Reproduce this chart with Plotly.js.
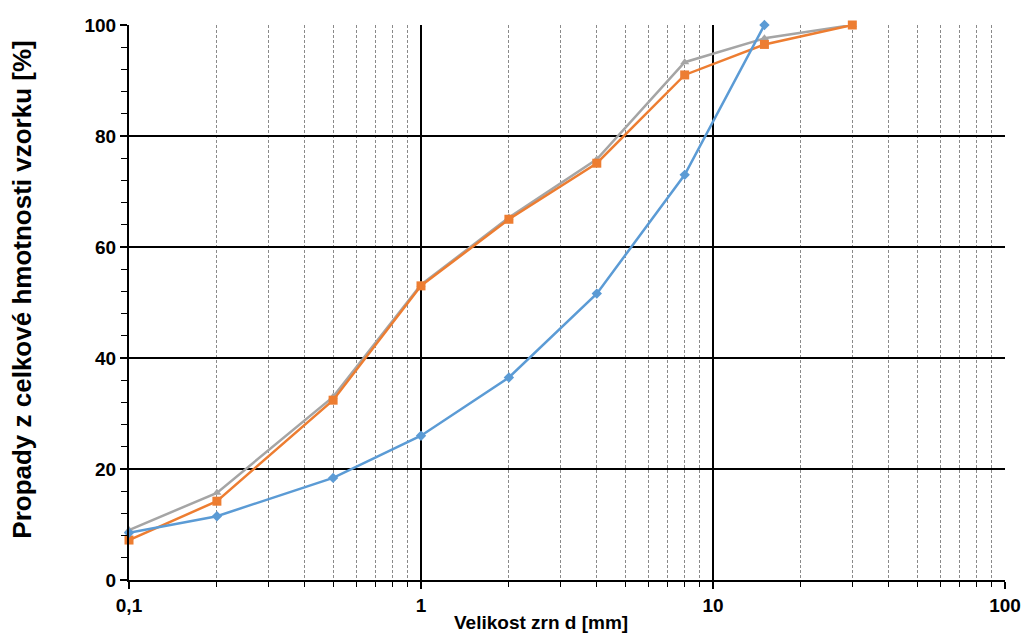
<!DOCTYPE html>
<html>
<head>
<meta charset="utf-8">
<script src="https://cdn.plot.ly/plotly-3.0.1.min.js"></script>
<style>html,body{margin:0;padding:0;background:#fff}#chart{width:1028px;height:634px}</style>
</head>
<body>
<div id="chart"></div>
<script>
const sizes = [0.1, 0.2, 0.5, 1, 2, 4, 8, 15, 30];
const blueSizes = [0.1, 0.2, 0.5, 1, 2, 4, 8, 15];
const blueValues = [8.5, 11.5, 18.4, 26.0, 36.5, 51.6, 73.0, 100];
const orangeValues = [7.2, 14.2, 32.4, 53.0, 65.0, 75.1, 91.0, 96.5, 100];
const grayValues = [9.0, 15.7, 33.0, 53.2, 65.3, 75.8, 93.3, 97.6, 100];
const xTickVals = [0.1, 1, 10, 100];
const xTickText = ['0,1', '1', '10', '100'];
const yTickVals = [0, 20, 40, 60, 80, 100];
const xTitle = 'Velikost zrn d [mm]';
const yTitle = 'Propady z celkové hmotnosti vzorku [%]';

const FONT = 'Liberation Sans, Arial, sans-serif';

const traces = [
  {x: sizes, y: grayValues, mode: 'lines+markers', line: {color: '#A5A5A5', width: 2.5},
   marker: {symbol: 'triangle-up', size: 8, color: '#A5A5A5'}, cliponaxis: false},
  {x: sizes, y: orangeValues, mode: 'lines+markers', line: {color: '#ED7D31', width: 2.5},
   marker: {symbol: 'square', size: 9, color: '#ED7D31'}, cliponaxis: false},
  {x: blueSizes, y: blueValues, mode: 'lines+markers', line: {color: '#5B9BD5', width: 2.5},
   marker: {symbol: 'diamond', size: 8, color: '#5B9BD5'}, cliponaxis: false}
];

const layout = {
  width: 1028, height: 634,
  margin: {l: 129, r: 23, t: 25, b: 54},
  showlegend: false,
  paper_bgcolor: '#fff', plot_bgcolor: '#fff',
  font: {family: FONT, color: '#000'},
  xaxis: {
    type: 'log', range: [-1, 2],
    tickvals: xTickVals, ticktext: xTickText,
    tickfont: {size: 19, family: FONT, weight: 'bold'},
    ticks: 'outside', ticklen: 7, tickwidth: 2, tickcolor: '#000',
    showline: true, linecolor: '#000', linewidth: 2,
    showgrid: true, gridcolor: '#000', gridwidth: 1.2,
    zeroline: false,
    minor: {dtick: 'D1', showgrid: true, gridcolor: '#8a8a8a', griddash: '3px,2px', gridwidth: 1,
            ticks: 'outside', ticklen: 5, tickcolor: '#000', tickwidth: 1},
    layer: 'below traces'
  },
  yaxis: {
    range: [0, 100],
    tickvals: yTickVals,
    tickfont: {size: 19, family: FONT, weight: 'bold'},
    ticks: 'outside', ticklen: 7, tickwidth: 2, tickcolor: '#000',
    showline: true, linecolor: '#000', linewidth: 2,
    showgrid: true, gridcolor: '#000', gridwidth: 1.2,
    zeroline: false,
    minor: {dtick: 4, ticks: 'outside', ticklen: 6, tickcolor: '#000', tickwidth: 1, showgrid: false}
  },
  annotations: [
    {text: xTitle, xref: 'paper', yref: 'paper', x: 0.470, y: -0.076,
     xanchor: 'center', yanchor: 'middle', showarrow: false,
     font: {size: 19, family: FONT, weight: 'bold', color: '#000'}},
    {text: yTitle, xref: 'paper', yref: 'paper', x: -0.1225, y: 0.5225,
     xanchor: 'center', yanchor: 'middle', showarrow: false, textangle: -90,
     font: {size: 26, family: FONT, weight: 'bold', color: '#000'}}
  ]
};

Plotly.newPlot('chart', traces, layout, {displayModeBar: false, staticPlot: true});
</script>
</body>
</html>
